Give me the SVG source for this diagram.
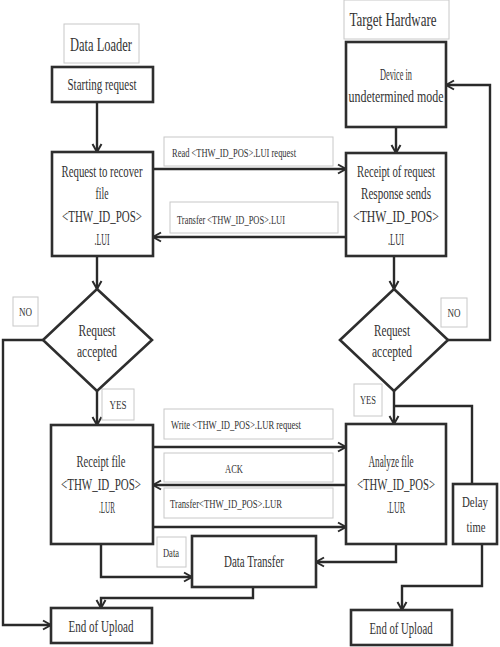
<svg xmlns="http://www.w3.org/2000/svg" width="500" height="647" viewBox="0 0 500 647">
<style>
.box{fill:#fff;stroke:#2e2e2e;stroke-width:2.6}
.lbl{fill:#fff;stroke:#c8c8c8;stroke-width:1}
.t{font-family:"Liberation Serif","Times New Roman",serif;font-size:17px;fill:#333;text-anchor:middle}
.s{font-family:"Liberation Serif","Times New Roman",serif;font-size:13px;fill:#333;text-anchor:middle}
.h{font-family:"Liberation Serif","Times New Roman",serif;font-size:19px;fill:#333;text-anchor:middle}
.c{fill:none;stroke:#2a2a2a;stroke-width:2.4}
</style>
<defs>
<marker id="ar" markerUnits="userSpaceOnUse" markerWidth="12" markerHeight="12" refX="10" refY="6" orient="auto">
<path d="M2,1.5 L10,6 L2,10.5" fill="none" stroke="#2a2a2a" stroke-width="2"/>
</marker>
</defs>
<rect width="500" height="647" fill="#fff"/>

<g id="title-loader">
<rect class="lbl" x="64" y="24" width="75" height="39"/>
<text class="h" x="101" y="51" textLength="62" lengthAdjust="spacingAndGlyphs">Data Loader</text>
</g>
<g id="title-target">
<rect class="lbl" x="344" y="0" width="105" height="39"/>
<text class="h" x="393" y="26" textLength="87" lengthAdjust="spacingAndGlyphs">Target  Hardware</text>
</g>

<g id="connectors">
<path class="c" d="M97,102 V152" marker-end="url(#ar)"/>
<path class="c" d="M153,169 H346" marker-end="url(#ar)"/>
<path class="c" d="M346,237 H153" marker-end="url(#ar)"/>
<path class="c" d="M396,127 V153" marker-end="url(#ar)"/>
<path class="c" d="M97,256 V289" marker-end="url(#ar)"/>
<path class="c" d="M394,256 V289" marker-end="url(#ar)"/>
<path class="c" d="M43,340 H3 V625 H51" marker-end="url(#ar)"/>
<path class="c" d="M448,340 H490 V85 H446" marker-end="url(#ar)"/>
<path class="c" d="M97,391 V425" marker-end="url(#ar)"/>
<path class="c" d="M394,391 V424" marker-end="url(#ar)"/>
<path class="c" d="M394,406 H472 V484"/>
<path class="c" d="M153,447 H346" marker-end="url(#ar)"/>
<path class="c" d="M346,485 H153" marker-end="url(#ar)"/>
<path class="c" d="M153,527 H346" marker-end="url(#ar)"/>
<path class="c" d="M101,544 V577 H192" marker-end="url(#ar)"/>
<path class="c" d="M396,544 V562 H316" marker-end="url(#ar)"/>
<path class="c" d="M253,587 V598 H101 V608" marker-end="url(#ar)"/>
<path class="c" d="M482,544 V586 H402 V610" marker-end="url(#ar)"/>
</g>

<g id="edge-labels">
<rect class="lbl" x="164" y="137" width="169" height="29"/>
<text class="s" x="234" y="157" textLength="124" lengthAdjust="spacingAndGlyphs">Read &lt;THW_ID_POS&gt;.LUI request</text>
<rect class="lbl" x="170" y="202" width="168" height="31"/>
<text class="s" x="231" y="224" textLength="108" lengthAdjust="spacingAndGlyphs">Transfer &lt;THW_ID_POS&gt;.LUI</text>
<rect class="lbl" x="164" y="409" width="169" height="30"/>
<text class="s" x="236" y="429" textLength="130" lengthAdjust="spacingAndGlyphs">Write &lt;THW_ID_POS&gt;.LUR request</text>
<rect class="lbl" x="164" y="453" width="169" height="29"/>
<text class="s" x="234" y="473" textLength="18" lengthAdjust="spacingAndGlyphs">ACK</text>
<rect class="lbl" x="164" y="488" width="169" height="30"/>
<text class="s" x="226" y="508" textLength="112" lengthAdjust="spacingAndGlyphs">Transfer&lt;THW_ID_POS&gt;.LUR</text>
<rect class="lbl" x="13" y="297" width="25" height="29"/>
<text class="s" x="25.5" y="316" textLength="13" lengthAdjust="spacingAndGlyphs">NO</text>
<rect class="lbl" x="102" y="389" width="32" height="31"/>
<text class="s" x="118" y="409" textLength="17" lengthAdjust="spacingAndGlyphs">YES</text>
<rect class="lbl" x="441" y="298" width="26" height="29"/>
<text class="s" x="454" y="317" textLength="13" lengthAdjust="spacingAndGlyphs">NO</text>
<rect class="lbl" x="354" y="384" width="28" height="32"/>
<text class="s" x="368" y="404" textLength="16" lengthAdjust="spacingAndGlyphs">YES</text>
<rect class="lbl" x="157" y="537" width="29" height="30"/>
<text class="s" x="171" y="557" textLength="16" lengthAdjust="spacingAndGlyphs">Data</text>
</g>

<g id="starting-request">
<rect class="box" x="52" y="67" width="101" height="35"/>
<text class="t" x="102" y="90" textLength="69" lengthAdjust="spacingAndGlyphs">Starting request</text>
</g>
<g id="request-recover">
<rect class="box" x="52" y="152" width="101" height="104"/>
<text class="t" x="102" y="177" textLength="81" lengthAdjust="spacingAndGlyphs">Request to recover</text>
<text class="t" x="102" y="199" textLength="13" lengthAdjust="spacingAndGlyphs">file</text>
<text class="t" x="102" y="222" textLength="80" lengthAdjust="spacingAndGlyphs">&lt;THW_ID_POS&gt;</text>
<text class="t" x="102" y="245" textLength="15" lengthAdjust="spacingAndGlyphs">.LUI</text>
</g>
<g id="device-undetermined">
<rect class="box" x="346" y="42" width="100" height="85"/>
<text class="t" x="396" y="80" textLength="32" lengthAdjust="spacingAndGlyphs">Device in</text>
<text class="t" x="396" y="102" textLength="95" lengthAdjust="spacingAndGlyphs">undetermined mode</text>
</g>
<g id="receipt-request">
<rect class="box" x="346" y="153" width="100" height="103"/>
<text class="t" x="396" y="177" textLength="78" lengthAdjust="spacingAndGlyphs">Receipt of request</text>
<text class="t" x="396" y="199" textLength="70" lengthAdjust="spacingAndGlyphs">Response sends</text>
<text class="t" x="396" y="222" textLength="86" lengthAdjust="spacingAndGlyphs">&lt;THW_ID_POS&gt;</text>
<text class="t" x="396" y="245" textLength="16" lengthAdjust="spacingAndGlyphs">.LUI</text>
</g>
<g id="decision-left">
<polygon class="box" points="97,289 152,340 97,391 43,340"/>
<text class="t" x="97" y="336" textLength="37" lengthAdjust="spacingAndGlyphs">Request</text>
<text class="t" x="97" y="357" textLength="40" lengthAdjust="spacingAndGlyphs">accepted</text>
</g>
<g id="decision-right">
<polygon class="box" points="394,289 448,340 394,391 340,340"/>
<text class="t" x="392" y="336" textLength="36" lengthAdjust="spacingAndGlyphs">Request</text>
<text class="t" x="392" y="357" textLength="40" lengthAdjust="spacingAndGlyphs">accepted</text>
</g>
<g id="receipt-file">
<rect class="box" x="51" y="425" width="102" height="119"/>
<text class="t" x="101" y="467" textLength="49" lengthAdjust="spacingAndGlyphs">Receipt file</text>
<text class="t" x="101" y="490" textLength="80" lengthAdjust="spacingAndGlyphs">&lt;THW_ID_POS&gt;</text>
<text class="t" x="107" y="513" textLength="16" lengthAdjust="spacingAndGlyphs">.LUR</text>
</g>
<g id="analyze-file">
<rect class="box" x="346" y="424" width="100" height="120"/>
<text class="t" x="391" y="467" textLength="45" lengthAdjust="spacingAndGlyphs">Analyze file</text>
<text class="t" x="396" y="490" textLength="78" lengthAdjust="spacingAndGlyphs">&lt;THW_ID_POS&gt;</text>
<text class="t" x="396" y="513" textLength="18" lengthAdjust="spacingAndGlyphs">.LUR</text>
</g>
<g id="delay-time">
<rect class="box" x="453" y="484" width="44" height="60"/>
<text class="t" x="475" y="507" style="font-size:15px" textLength="26" lengthAdjust="spacingAndGlyphs">Delay</text>
<text class="t" x="476" y="532" style="font-size:15px" textLength="19" lengthAdjust="spacingAndGlyphs">time</text>
</g>
<g id="data-transfer">
<rect class="box" x="192" y="536" width="124" height="51"/>
<text class="t" x="254" y="567" textLength="60" lengthAdjust="spacingAndGlyphs">Data Transfer</text>
</g>
<g id="end-left">
<rect class="box" x="51" y="608" width="101" height="35"/>
<text class="t" x="101" y="632" textLength="65" lengthAdjust="spacingAndGlyphs">End of Upload</text>
</g>
<g id="end-right">
<rect class="box" x="351" y="610" width="101" height="35"/>
<text class="t" x="401" y="634" textLength="63" lengthAdjust="spacingAndGlyphs">End of Upload</text>
</g>
</svg>
